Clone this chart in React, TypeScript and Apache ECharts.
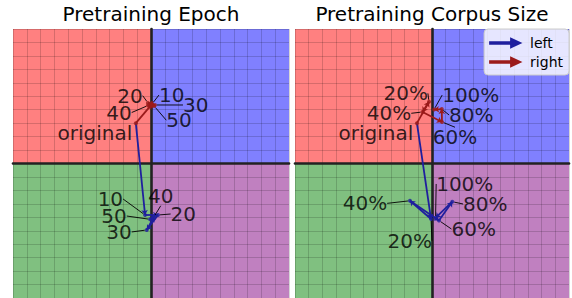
import React, { useEffect, useRef } from "react";
import * as echarts from "echarts";

// ---- data (grid-cell units; axes span -10..10) ----
const epochLabels = ["10", "20", "30", "40", "50"];
const corpusLabels = ["20%", "40%", "60%", "80%", "100%"];
const originPoint = [-1.1, 3.0];
const epochLeftX = [-0.43, 0.51, -0.31, 0.22, -0.07];
const epochLeftY = [-3.83, -3.83, -4.94, -3.96, -4.15];
const epochRightX = [0.07, -0.22, 0.29, -0.22, 0.22];
const epochRightY = [4.42, 4.5, 4.35, 4.31, 4.28];
const corpusLeftX = [-0.07, -1.61, 0.51, 1.48, 0.26];
const corpusLeftY = [-4.13, -2.77, -4.24, -2.84, -4.05];
const corpusRightX = [-0.22, -0.69, 0.73, 0.71, 0.15];
const corpusRightY = [4.59, 3.83, 3.09, 4.05, 4.01];
const panelTitles = ["Pretraining Epoch", "Pretraining Corpus Size"];
const legendNames = ["left", "right"];

// ---- label layout offsets (pixels, label centre relative to point) ----
const originLabelOffset = [-41, 10];
const epochLeftOffsets = [[-34.7, -16], [25.3, -1], [-27.7, 2], [6.7, -21], [-36, -3.3]];
const epochRightOffsets = [[19.7, -9], [-18, -7.3], [40.7, 0], [-29, 7], [25, 14.3]];
const corpusLeftOffsets = [[-21.3, 21.7], [-45, 2.6], [34.7, 8.5], [33, 2.3], [29.2, -34]];
const corpusRightOffsets = [[-23.3, -8.4], [-33.5, 1.3], [13, 15.3], [29.6, 6], [36.7, -14.5]];

const BLUE = "#1f1f9e";
const RED = "#9b1a1a";
const FONT = "DejaVu Sans";
const ARROW_ICON = "path://M0,4.3L21,4.3L21,0.8L30,5L21,9.2L21,5.7L0,5.7Z";

function pts(xs: number[], ys: number[]) {
  return xs.map((x, i) => [x, ys[i]]);
}

function panelSeries(
  gi: number,
  labels: string[],
  leftPts: number[][],
  rightPts: number[][],
  leftOffs: number[][],
  rightOffs: number[][]
) {
  const axes = { xAxisIndex: gi, yAxisIndex: gi };
  const seg = (p: number[][]) => {
    const all = [originPoint, ...p];
    const out: any[] = [];
    for (let i = 0; i < all.length - 1; i++) out.push({ coords: [all[i], all[i + 1]] });
    return out;
  };
  const q = (x0: number, y0: number, x1: number, y1: number, c: string) => [
    { xAxis: x0, yAxis: y0, itemStyle: { color: c, opacity: 1 } },
    { xAxis: x1, yAxis: y1 },
  ];
  const pointSeries = (name: string, p: number[][], offs: number[][], color: string) => ({
    type: "scatter",
    name,
    ...axes,
    data: p,
    symbolSize: 4,
    itemStyle: { color },
    z: 6,
    label: {
      show: true,
      position: "inside",
      formatter: (prm: any) => labels[prm.dataIndex],
      fontSize: 20,
      lineHeight: 15,
      fontFamily: FONT,
      color: "#000",
    },
    labelLayout: (prm: any) => ({ dx: offs[prm.dataIndex][0], dy: offs[prm.dataIndex][1] }),
    labelLine: { show: true, lineStyle: { color: "#000", width: 0.9 } },
  });
  return [
    {
      type: "scatter",
      ...axes,
      data: [[0, 0]],
      symbolSize: 0,
      silent: true,
      z: 1,
      markArea: {
        silent: true,
        data: [
          q(-10, 0, 0, 10, "#ff8080"),
          q(0, 0, 10, 10, "#8080ff"),
          q(-10, -10, 0, 0, "#80c080"),
          q(0, -10, 10, 0, "#c080c0"),
        ],
      },
    },
    {
      type: "lines",
      name: "left",
      coordinateSystem: "cartesian2d",
      ...axes,
      data: seg(leftPts),
      symbol: ["none", "arrow"],
      symbolSize: 5,
      lineStyle: { color: BLUE, width: 1.8, opacity: 1 },
      z: 4,
    },
    {
      type: "lines",
      name: "right",
      coordinateSystem: "cartesian2d",
      ...axes,
      data: seg(rightPts),
      symbol: ["none", "arrow"],
      symbolSize: 5,
      lineStyle: { color: RED, width: 1.8, opacity: 1 },
      z: 4,
    },
    pointSeries("ptsL" + gi, leftPts, leftOffs, BLUE),
    pointSeries("ptsR" + gi, rightPts, rightOffs, RED),
    {
      type: "scatter",
      name: "orig" + gi,
      ...axes,
      data: [originPoint],
      symbolSize: 4,
      itemStyle: { color: RED },
      z: 6,
      label: {
        show: true,
        position: "inside",
        formatter: "original",
        fontSize: 20,
        lineHeight: 15,
        fontFamily: FONT,
        color: "#000",
      },
      labelLayout: () => ({ dx: originLabelOffset[0], dy: originLabelOffset[1] }),
    },
  ];
}

function axis(gi: number) {
  return {
    gridIndex: gi,
    type: "value",
    min: -10,
    max: 10,
    interval: 1,
    z: 3,
    axisLine: { show: true, onZero: true, lineStyle: { color: "#222", width: 2.6 } },
    axisTick: { show: false },
    axisLabel: { show: false },
    splitLine: { show: true, lineStyle: { color: "rgba(0,0,0,0.16)", width: 1 } },
  };
}

export default function App() {
  const ref = useRef<HTMLDivElement>(null);
  useEffect(() => {
    if (!ref.current) return;
    const chart = echarts.init(ref.current, undefined, { renderer: "svg" });
    chart.setOption({
      animation: false,
      backgroundColor: "#fff",
      textStyle: { fontFamily: FONT },
      title: panelTitles.map((t, i) => ({
        text: t,
        left: i === 0 ? 151 : 432,
        top: 4,
        padding: 0,
        textAlign: "center",
        textStyle: { fontFamily: FONT, fontSize: 20, fontWeight: "normal", color: "#000" },
      })),
      legend: {
        orient: "vertical",
        right: 3,
        top: 29,
        align: "left",
        itemWidth: 30,
        itemHeight: 10,
        itemGap: 5,
        padding: [7, 6, 6, 5],
        backgroundColor: "rgba(255,255,255,0.8)",
        borderColor: "#cccccc",
        borderWidth: 1,
        borderRadius: 4,
        textStyle: { fontSize: 14, fontFamily: FONT, color: "#000", padding: [0, 0, 0, 5] },
        data: legendNames.map((n, i) => ({
          name: n,
          icon: ARROW_ICON,
          itemStyle: { color: i === 0 ? BLUE : RED },
        })),
      },
      grid: [
        { left: 13, top: 29, width: 276, height: 269 },
        { left: 295, top: 29, width: 274, height: 269 },
      ],
      xAxis: [axis(0), axis(1)],
      yAxis: [axis(0), axis(1)],
      series: [
        ...panelSeries(
          0,
          epochLabels,
          pts(epochLeftX, epochLeftY),
          pts(epochRightX, epochRightY),
          epochLeftOffsets,
          epochRightOffsets
        ),
        ...panelSeries(
          1,
          corpusLabels,
          pts(corpusLeftX, corpusLeftY),
          pts(corpusRightX, corpusRightY),
          corpusLeftOffsets,
          corpusRightOffsets
        ),
      ],
    });
    return () => chart.dispose();
  }, []);
  return (
    <div
      ref={ref}
      style={{ position: "absolute", left: 0, top: 0, width: 572, height: 298 }}
    />
  );
}
